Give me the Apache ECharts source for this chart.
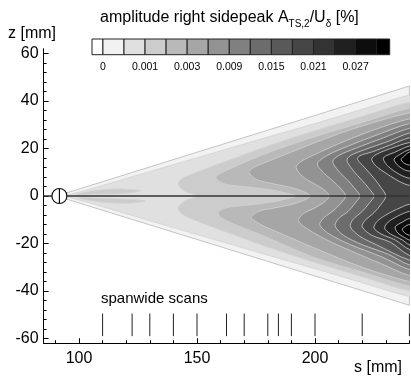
<!DOCTYPE html>
<html><head><meta charset="utf-8">
<script src="https://cdn.jsdelivr.net/npm/echarts@6/dist/echarts.min.js"></script>
<style>html,body{margin:0;padding:0;background:#fff}#c{width:411px;height:378px}</style>
</head><body><div id="c"></div>
<script>
// ---- data ----
const levels = [0, 0.0005, 0.001, 0.002, 0.003, 0.006, 0.009, 0.012, 0.015, 0.018, 0.021, 0.024, 0.027, 0.030];
const levelLabelIdx = [0, 2, 4, 6, 8, 10, 12];
const scanPositions = [110, 122.5, 130, 140, 150, 162.5, 170, 180, 184.5, 190, 200, 220, 240];
const origin = [91.7, 0];
const centerline = [[85, 0], [240, 0]];
const sTicks = [100, 150, 200];
const sMinorTicks = [90, 110, 120, 130, 140, 160, 170, 180, 190, 210, 220, 230, 240];
const zTicks = [-60, -40, -20, 0, 20, 40, 60];
const zMinorTicks = [-56, -52, -48, -44, -36, -32, -28, -24, -16, -12, -8, -4, 4, 8, 12, 16, 24, 28, 32, 36, 44, 48, 52, 56];

// iso-regions (value >= level) as [s, z] outlines in mm
const iso0000 = [[90.5, 0], [240, 46.3], [240, -46]];
const iso0005 = [[246, 42.5], [240, 42.5], [220, 36.5], [200, 30.5], [180, 24.8], [160, 19], [140, 13.2], [120, 7.4], [105, 3], [96, 0.6], [95, 0], [96, -0.6], [105, -3], [120, -7.5], [140, -13.3], [160, -19.1], [180, -24.9], [200, -30.6], [220, -36.5], [240, -42.3], [246, -42.3]];
const iso0010 = [[246, 39.5], [240, 39.5], [220, 33.5], [200, 27.5], [180, 21], [162, 14.5], [150, 10], [144, 7.5], [142, 5], [145, 2], [150, 0], [145, -2], [142, -5], [144, -7.8], [150, -10.5], [162, -15], [180, -21.5], [200, -28], [220, -34], [240, -40], [246, -40]];
const iso0010u = [[99, 0.6], [106, 2.2], [116, 3], [126, 2.2], [118, 1], [106, 0.8]];
const iso0010l = [[100, -0.8], [110, -2.6], [122, -3], [128, -2], [116, -1.2]];
const iso0020 = [[246, 37], [240, 37], [220, 31], [200, 25], [185, 20], [172, 15], [163, 11], [159, 9], [158, 7.5], [162, 5], [172, 3.8], [182, 2.5], [188, 1.2], [192, 0], [188, -1.2], [182, -2.5], [172, -3.8], [162, -5], [159, -7], [160, -9], [166, -12], [175, -15.5], [188, -21], [200, -26], [220, -32], [240, -38], [246, -38]];
const iso0030 = [[246, 35], [240, 35], [220, 29.5], [204, 24], [190, 18.5], [180, 14.5], [174, 12], [172, 10], [175, 7], [183, 5], [192, 3], [198, 0], [192, -3], [183, -5], [176, -6.5], [173, -9], [177, -12], [186, -16], [200, -22], [220, -30], [240, -36], [246, -36]];
const iso0060 = [[246, 32.5], [240, 32.5], [224, 27.5], [210, 22], [200, 17.5], [194, 14.5], [192, 12], [195, 8], [200, 5], [204, 2.5], [206, 0], [204, -2.5], [200, -5], [195, -7.5], [193, -10.5], [197, -14], [205, -18.5], [215, -23], [228, -28.5], [240, -33.5], [246, -33.5]];
const iso0090 = [[246, 30.5], [240, 30.5], [227, 26], [214, 21], [205, 17], [201, 13.5], [204, 9.5], [208, 6], [211, 3], [213, 0], [211, -3], [208, -6], [204, -9], [202, -12], [206, -16], [215, -20.5], [228, -25.5], [240, -31], [246, -31]];
const iso0120 = [[246, 28.5], [240, 28.5], [229, 24.5], [217, 20], [210, 17], [207.5, 14.5], [210, 10.5], [214, 6.5], [217, 3], [219, 0], [217, -3], [214, -6.5], [210, -9.5], [208.5, -12.5], [212, -16.5], [220, -20.5], [231, -24.5], [240, -29], [246, -29]];
const iso0150 = [[246, 26.5], [240, 26.5], [231, 23], [221, 19.5], [215, 17], [213.5, 15], [216, 11], [220, 6.5], [223, 3], [225, 0], [223, -3], [220, -6.5], [216, -10], [215, -13], [219, -17], [226, -20.5], [240, -27], [246, -27]];
const iso0180 = [[246, 24.5], [240, 24.5], [232, 21.5], [224, 18.5], [219, 17], [218, 15.5], [221, 12], [225, 7.5], [228, 3.5], [230, 0], [228, -3.5], [225, -7], [221, -10.5], [220, -13], [224, -16.5], [232, -19.5], [240, -25], [246, -25]];
const iso0210u = [[246, 22.5], [240, 22.5], [232, 20], [226, 17.5], [224, 15.5], [226, 12.5], [231, 9], [236, 6], [240, 4.5], [246, 4.5]];
const iso0210l = [[246, -3.5], [240, -3.5], [236, -5], [230, -8], [226, -11], [225, -13.5], [228, -16], [234, -18.5], [240, -22.5], [246, -22.5]];
const iso0240u = [[246, 21], [240, 21], [234, 18.5], [229, 16], [231, 12.5], [236, 9], [240, 7.5], [246, 7.5]];
const iso0240l = [[246, -6.5], [240, -6.5], [235, -8.5], [231, -11], [229.5, -13.5], [232, -16], [237, -18.5], [240, -20.5], [246, -20.5]];
const iso0270u = [[246, 19.5], [240, 19.5], [236, 17.5], [233.5, 15.5], [235, 13], [238, 11], [240, 10.5], [246, 10.5]];
const iso0270l = [[246, -9.5], [240, -9.5], [237, -11], [234, -13], [235, -15.5], [238, -17.5], [240, -18.5], [246, -18.5]];
const iso0300u = [[246, 18.5], [240, 18.5], [237.5, 16.5], [236.5, 15.5], [237.5, 14], [240, 13], [246, 13]];
const iso0300l = [[246, -12], [240, -12], [238, -13], [237, -14], [238, -15.5], [240, -16.5], [246, -16.5]];

const regions = [
  [0, iso0000], [1, iso0005], [2, iso0010], [2, iso0010u], [2, iso0010l],
  [3, iso0020], [4, iso0030], [5, iso0060], [6, iso0090], [7, iso0120],
  [8, iso0150], [9, iso0180], [10, iso0210u], [10, iso0210l],
  [11, iso0240u], [11, iso0240l], [12, iso0270u], [12, iso0270l],
  [13, iso0300u], [13, iso0300l]
];

// ---- styles ----
const palette = ['#ffffff', '#f2f2f2', '#e0e0e0', '#cccccc', '#b9b9b9', '#a6a6a6', '#939393', '#808080', '#6c6c6c', '#595959', '#464646', '#333333', '#202020', '#0d0d0d', '#000000'];
const FONT = 'Liberation Sans, Arial, Helvetica, sans-serif';

const chart = echarts.init(document.getElementById('c'), null, {renderer: 'canvas'});

const option = {
  animation: false,
  backgroundColor: '#ffffff',
  textStyle: {fontFamily: FONT},
  grid: [
    {left: 43.6, top: 48.75, width: 365.8, height: 294.5},
    {left: 92, top: 39, width: 297.7, height: 15.7}
  ],
  xAxis: [
    {gridIndex: 0, type: 'value', position: 'bottom', min: 85, max: 240,
     axisLine: {show: true, onZero: false, lineStyle: {color: '#000', width: 1}},
     axisTick: {show: true, inside: true, length: 5, customValues: sTicks, lineStyle: {color: '#000'}},
     axisLabel: {show: true, customValues: sTicks, fontSize: 16, color: '#000', margin: 7, fontFamily: FONT},
     splitLine: {show: false}},
    {gridIndex: 0, type: 'value', position: 'bottom', min: 85, max: 240,
     axisLine: {show: false, onZero: false},
     axisTick: {show: true, inside: true, length: 3, customValues: sMinorTicks, lineStyle: {color: '#000'}},
     axisLabel: {show: false}, splitLine: {show: false}},
    {gridIndex: 1, type: 'value', min: -0.52, max: 13.62,
     axisLine: {show: false}, axisTick: {show: false},
     axisLabel: {show: true, customValues: levelLabelIdx, formatter: v => String(levels[v]), fontSize: 10.5, color: '#000', margin: 7, fontFamily: FONT},
     splitLine: {show: false}}
  ],
  yAxis: [
    {gridIndex: 0, type: 'value', position: 'left', min: -62, max: 62,
     axisLine: {show: true, onZero: false, lineStyle: {color: '#000', width: 1}},
     axisTick: {show: true, inside: true, length: 5, customValues: zTicks, lineStyle: {color: '#000'}},
     axisLabel: {show: true, customValues: zTicks, fontSize: 16, color: '#000', margin: 5, fontFamily: FONT},
     splitLine: {show: false}},
    {gridIndex: 0, type: 'value', position: 'left', min: -62, max: 62,
     axisLine: {show: false, onZero: false},
     axisTick: {show: true, inside: true, length: 3, customValues: zMinorTicks, lineStyle: {color: '#000'}},
     axisLabel: {show: false}, splitLine: {show: false}},
    {gridIndex: 1, type: 'value', min: 0, max: 1, show: false}
  ],
  series: [
    {
      type: 'custom', name: 'field', xAxisIndex: 0, yAxisIndex: 0, clip: true, z: 1,
      data: regions.map((r, i) => [r[1][0][0], r[1][0][1], i]),
      renderItem: function (params, api) {
        const r = regions[api.value(2)];
        const lev = r[0];
        const pts = r[1].map(p => api.coord(p));
        return {
          type: 'polygon',
          shape: {points: pts, smooth: lev === 0 ? 0 : 0.3},
          style: {fill: palette[lev + 1], stroke: lev === 0 ? '#c4c4c4' : '#d2d2d2', lineWidth: lev === 0 ? 1 : 0.8}
        };
      }
    },
    {
      type: 'line', name: 'centerline', xAxisIndex: 0, yAxisIndex: 0, z: 3,
      data: centerline, symbol: 'none', silent: true,
      lineStyle: {color: '#333333', width: 1.6}
    },
    {
      type: 'custom', name: 'origin', xAxisIndex: 0, yAxisIndex: 0, z: 4,
      data: [origin],
      renderItem: function (params, api) {
        const c = api.coord([api.value(0), api.value(1)]);
        const r = 7.5;
        return {
          type: 'group',
          children: [
            {type: 'circle', shape: {cx: c[0], cy: c[1], r: r}, style: {fill: '#fff', stroke: '#111', lineWidth: 1.2}},
            {type: 'line', shape: {x1: c[0], y1: c[1] - r, x2: c[0], y2: c[1] + r}, style: {stroke: '#111', lineWidth: 1.2}}
          ]
        };
      }
    },
    {
      type: 'custom', name: 'scans', xAxisIndex: 0, yAxisIndex: 0, z: 3,
      data: scanPositions.map(s => [s, -54]),
      renderItem: function (params, api) {
        const a = api.coord([api.value(0), -49.5]);
        const b = api.coord([api.value(0), -59]);
        return {type: 'line', shape: {x1: a[0], y1: a[1], x2: b[0], y2: b[1]}, style: {stroke: '#222', lineWidth: 1}};
      }
    },
    {
      type: 'custom', name: 'colorbar', xAxisIndex: 2, yAxisIndex: 2, z: 3,
      data: palette.map((c, i) => [i === 0 ? -0.52 : i - 1, i === palette.length - 1 ? 13.62 : i, i]),
      renderItem: function (params, api) {
        const p0 = api.coord([api.value(0), 1]);
        const p1 = api.coord([api.value(1), 0]);
        return {
          type: 'rect',
          shape: {x: p0[0], y: p0[1], width: p1[0] - p0[0], height: p1[1] - p0[1]},
          style: {fill: palette[api.value(2)], stroke: '#222', lineWidth: 1}
        };
      }
    }
  ],
  graphic: [
    {type: 'text', left: 100, top: 10, style: {
      text: 'amplitude right sidepeak A{s|TS,2}/U{s|δ} [%]',
      fontSize: 16, fontFamily: FONT, fill: '#000',
      rich: {s: {fontSize: 10, fontFamily: FONT, fill: '#000', padding: [12, 0, 0, 0]}}
    }},
    {type: 'text', left: 8, top: 26, style: {text: 'z [mm]', fontSize: 16, fontFamily: FONT, fill: '#000'}},
    {type: 'text', right: 9, top: 360, style: {text: 's [mm]', fontSize: 16, fontFamily: FONT, fill: '#000'}},
    {type: 'text', left: 101, top: 291, style: {text: 'spanwide scans', fontSize: 15, fontFamily: FONT, fill: '#000'}}
  ]
};
chart.setOption(option);
</script>
</body></html>
